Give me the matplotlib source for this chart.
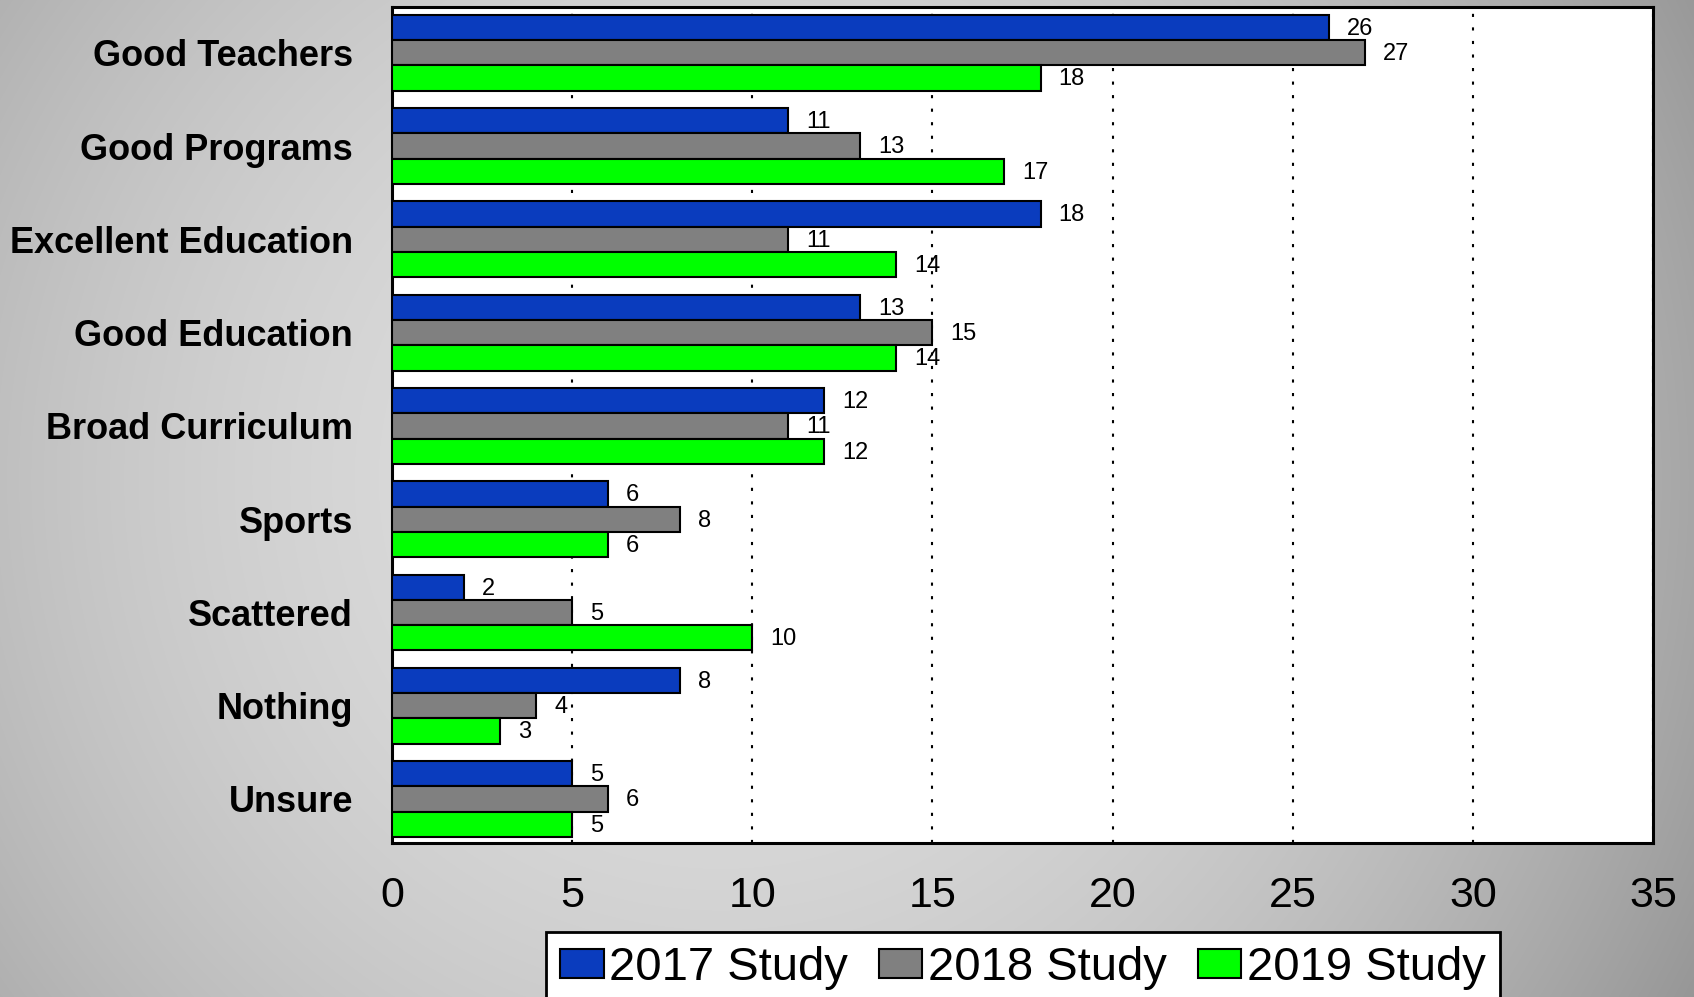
import numpy as np
import matplotlib.pyplot as plt
from matplotlib.patches import Patch

plt.rcParams['font.family'] = ['Liberation Sans', 'DejaVu Sans']

# survey answers, top to bottom
categories = ['Good Teachers', 'Good Programs', 'Excellent Education',
              'Good Education', 'Broad Curriculum', 'Sports',
              'Scattered', 'Nothing', 'Unsure']
study_2017 = [26, 11, 18, 13, 12, 6, 2, 8, 5]
study_2018 = [27, 13, 11, 15, 11, 8, 5, 4, 6]
study_2019 = [18, 17, 14, 14, 12, 6, 10, 3, 5]
series_names = ['2017 Study', '2018 Study', '2019 Study']
colors = ['#0A3CBE', '#808080', '#00FF00']
x_ticks = [0, 5, 10, 15, 20, 25, 30, 35]

fig = plt.figure(figsize=(16.94, 9.97), dpi=100)

# gray radial background
bg = fig.add_axes([0, 0, 1, 1], zorder=-10)
yy, xx = np.mgrid[0:997, 0:1694]
r = np.sqrt((xx - 720.0)**2 + (yy - 480.0)**2) / 1000.0
shade = np.clip(0.87 - 0.23 * r**2, 0, 1)
bg.imshow(np.dstack([shade, shade, shade]), aspect='auto', extent=(0, 1, 0, 1))
bg.set_axis_off()

ax = fig.add_axes([392/1694, 1 - 843/997, (1653 - 392)/1694, (843 - 7)/997])
ax.set_facecolor('white')

y = np.arange(len(categories))
h = 0.271
for k, vals in enumerate([study_2017, study_2018, study_2019]):
    pos = y + (k - 1) * h
    ax.barh(pos, vals, height=h, color=colors[k], edgecolor='black',
            linewidth=1.5, zorder=3, label=series_names[k])
    for yy_, v in zip(pos, vals):
        ax.annotate(str(v), (v, yy_), xytext=(13, -1), textcoords='offset points',
                    ha='left', va='center', fontsize=17, zorder=4)

ax.set_xlim(0, 35)
ax.set_ylim(8.472, -0.491)
ax.set_xticks(x_ticks)
ax.set_xticklabels([str(t) for t in x_ticks], fontsize=31)
ax.set_yticks(y)
ax.set_yticklabels(categories, fontsize=26, fontweight='bold')
ax.tick_params(axis='x', length=0, pad=24)
ax.tick_params(axis='y', length=0, pad=28)
ax.xaxis.grid(True, color='black', linestyle=(0, (1.5, 5)), linewidth=1.5, zorder=1)
ax.set_axisbelow(True)
for s in ax.spines.values():
    s.set_linewidth(2.2)
    s.set_color('black')

handles = [Patch(facecolor=c, edgecolor='black', linewidth=1.5) for c in colors]
leg = fig.legend(handles, series_names, loc='upper center',
                 bbox_to_anchor=(1023/1694, 1 - 932/997), ncol=3, fontsize=34,
                 frameon=True, fancybox=False, shadow=False, framealpha=1,
                 handlelength=0.92, handleheight=0.57, handletextpad=0.12,
                 columnspacing=0.65, borderpad=0.3, borderaxespad=0)
leg.get_frame().set_edgecolor('black')
leg.get_frame().set_linewidth(2)

fig.savefig('out.png', dpi=100)
